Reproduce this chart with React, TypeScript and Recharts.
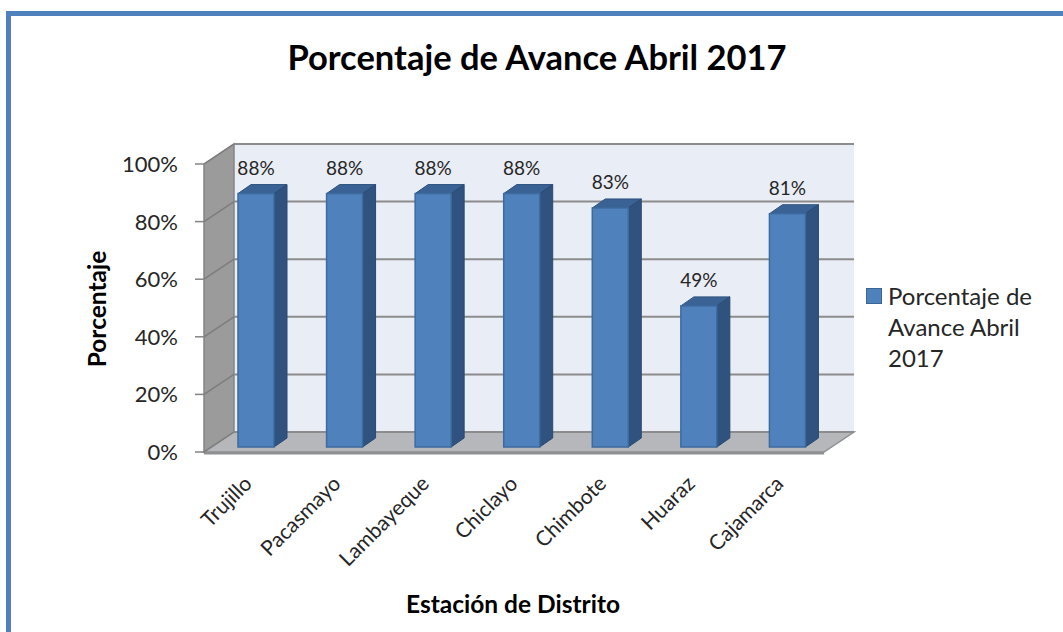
import React from "react";
import { Bar, BarChart, CartesianGrid, LabelList, Legend, XAxis, YAxis } from "recharts";

const categories = ["Trujillo", "Pacasmayo", "Lambayeque", "Chiclayo", "Chimbote", "Huaraz", "Cajamarca"];
const avance = [88, 88, 88, 88, 83, 49, 81];
const yTicks = [0, 20, 40, 60, 80, 100];
const seriesName = "Porcentaje de Avance Abril 2017";

const data = categories.map((name, i) => ({ name, avance: avance[i] }));

// plot frame (front plane) and 3D depth
const W = 1063;
const H = 632;
const LEFT = 204;
const RIGHT = 824;
const TOP = 164;
const BOTTOM = 452;
const DX = 30;
const DY = -20;
// bars sit a little behind the front plane
const BX = 8;
const BY = -5;
const SX = 13;
const SY = -9;

const FONT = "Lato, 'Noto Sans', sans-serif";

function Walls() {
  return (
    <g>
      <rect x={LEFT + DX} y={TOP + DY} width={RIGHT - LEFT} height={BOTTOM - TOP} fill="#e9edf6" />
      <polygon
        points={`${LEFT},${TOP} ${LEFT + DX},${TOP + DY} ${LEFT + DX},${BOTTOM + DY} ${LEFT},${BOTTOM}`}
        fill="#9b9b9b"
        stroke="#858585"
        strokeWidth={1.5}
      />
      <polygon
        points={`${LEFT},${BOTTOM} ${RIGHT},${BOTTOM} ${RIGHT + DX},${BOTTOM + DY} ${LEFT + DX},${BOTTOM + DY}`}
        fill="#b5b7ba"
        stroke="#8e8f91"
        strokeWidth={1.5}
      />
      <rect x={LEFT} y={BOTTOM} width={RIGHT - LEFT} height={2.5} fill="#8f9092" />
    </g>
  );
}

function GridLine(props: any) {
  const { x1, x2, y1, index } = props;
  return (
    <g key={`grid-${index}`}>
      {index === 0 && <Walls />}
      <line x1={x1 + DX} x2={x2 + DX} y1={y1 + DY} y2={y1 + DY} stroke="#8c8c8c" strokeWidth={2} />
      <line x1={x1} x2={x1 + DX} y1={y1} y2={y1 + DY} stroke="#7d7d7d" strokeWidth={1.5} />
      <line x1={x1 - 9} x2={x1} y1={y1} y2={y1} stroke="#858585" strokeWidth={1.5} />
    </g>
  );
}

function Bar3D(props: any) {
  const { x, y, width, height } = props;
  const fx = x + BX;
  const fy = y + BY;
  return (
    <g>
      <polygon
        points={`${fx},${fy} ${fx + SX},${fy + SY} ${fx + width + SX},${fy + SY} ${fx + width},${fy}`}
        fill="#3b6294"
        stroke="#2f527e"
        strokeWidth={1}
      />
      <polygon
        points={`${fx + width},${fy} ${fx + width + SX},${fy + SY} ${fx + width + SX},${fy + height + SY} ${fx + width},${fy + height}`}
        fill="#30527e"
        stroke="#2a4a73"
        strokeWidth={1}
      />
      <rect x={fx} y={fy} width={width} height={height} fill="#4f81bd" stroke="#3d6a9f" strokeWidth={1.5} />
    </g>
  );
}

function BarLabel(props: any) {
  const vb = props.viewBox ?? props;
  const { x, y, width } = vb;
  return (
    <text
      x={x + BX + width / 2}
      y={y + BY - 19}
      textAnchor="middle"
      fontFamily={FONT}
      fontSize={19}
      fill="#262626"
    >
      {`${props.value}%`}
    </text>
  );
}

function XTick(props: any) {
  const { x, y, payload } = props;
  return (
    <g transform={`translate(${x + 5},${y + 31})`}>
      <text textAnchor="end" transform="rotate(-45)" fontFamily={FONT} fontSize={21} fill="#262626">
        {payload.value}
      </text>
    </g>
  );
}

function YTick(props: any) {
  const { y, payload } = props;
  return (
    <text x={LEFT - 26} y={y} dy="0.36em" textAnchor="end" fontFamily={FONT} fontSize={22} fill="#262626">
      {`${payload.value}%`}
    </text>
  );
}

function LegendBox() {
  return (
    <div style={{ display: "flex", alignItems: "flex-start", fontFamily: FONT, fontSize: 24, color: "#262626" }}>
      <div
        style={{
          width: 14,
          height: 14,
          marginTop: 8,
          marginRight: 6,
          background: "#4f81bd",
          border: "1px solid #3a6696",
          flex: "none"
        }}
      />
      <div style={{ width: 170, lineHeight: "31px", textAlign: "left" }}>{seriesName}</div>
    </div>
  );
}

export default function App() {
  return (
    <div
      style={{
        position: "fixed",
        left: 0,
        top: 0,
        width: W,
        height: H,
        overflow: "hidden",
        background: "#ffffff",
        fontFamily: FONT
      }}
    >
      <div
        style={{
          position: "absolute",
          left: 6,
          top: 11,
          width: 1100,
          height: 700,
          border: "5px solid #4f81bd"
        }}
      />
      <div
        style={{
          position: "absolute",
          left: 0,
          width: W,
          top: 37,
          textAlign: "center",
          fontWeight: 700,
          fontSize: 34.5,
          lineHeight: "40px",
          color: "#000000",
          paddingLeft: 11,
          boxSizing: "border-box"
        }}
      >
        Porcentaje de Avance Abril 2017
      </div>
      <div
        style={{
          position: "absolute",
          left: 97 - 100,
          top: 309 - 15,
          width: 200,
          height: 30,
          lineHeight: "30px",
          textAlign: "center",
          fontWeight: 700,
          fontSize: 24.5,
          color: "#000000",
          transform: "rotate(-90deg)"
        }}
      >
        Porcentaje
      </div>
      <div
        style={{
          position: "absolute",
          left: 513 - 150,
          top: 604 - 15,
          width: 300,
          height: 30,
          lineHeight: "30px",
          textAlign: "center",
          fontWeight: 700,
          fontSize: 24.5,
          color: "#000000"
        }}
      >
        Estación de Distrito
      </div>
      <div style={{ position: "absolute", left: 0, top: 0 }}>
        <BarChart
          width={W}
          height={H}
          data={data}
          margin={{ top: TOP, right: W - RIGHT, bottom: H - BOTTOM - 30, left: LEFT - 60 }}
          barSize={36}
        >
          <CartesianGrid vertical={false} horizontal={GridLine} />
          <XAxis
            dataKey="name"
            height={30}
            axisLine={false}
            tickLine={false}
            tickSize={0}
            interval={0}
            tick={XTick}
          />
          <YAxis
            width={60}
            domain={[0, 100]}
            ticks={yTicks}
            interval={0}
            axisLine={false}
            tickLine={false}
            tick={YTick}
          />
          <Legend
            layout="horizontal"
            align="center"
            verticalAlign="middle"
            content={LegendBox}
            wrapperStyle={{ left: 866, top: 280, width: 197 }}
          />
          <Bar dataKey="avance" name={seriesName} fill="#4f81bd" shape={Bar3D} isAnimationActive={false}>
            <LabelList dataKey="avance" content={BarLabel} />
          </Bar>
        </BarChart>
      </div>
    </div>
  );
}
